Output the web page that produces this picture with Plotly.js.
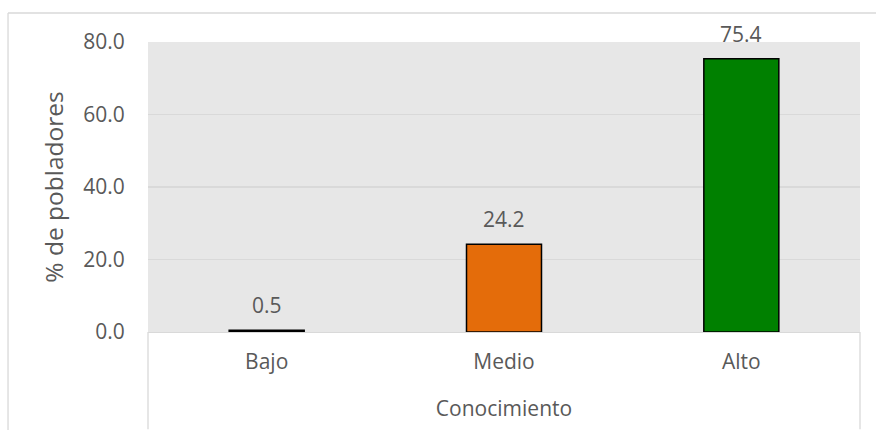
<!DOCTYPE html>
<html>
<head>
<meta charset="utf-8">
<script src="https://cdn.plot.ly/plotly-3.0.1.min.js"></script>
<style>
  html, body { margin: 0; padding: 0; background: #ffffff; }
  #chart { width: 876px; height: 430px; }
</style>
</head>
<body>
<div id="chart"></div>
<script>
const categories = ["Bajo", "Medio", "Alto"];
const values = [0.5, 24.2, 75.4];
const barColors = ["#000000", "#E46C0A", "#008000"];
const yTicks = [0, 20, 40, 60, 80];
const yTitle = "% de pobladores";
const xTitle = "Conocimiento";

const textColor = "#595959";
const fontFamily = "'Open Sans', 'Noto Sans', sans-serif";

const trace = {
  type: "bar",
  x: categories,
  y: values,
  marker: { color: barColors, line: { color: "#000000", width: 1.5 } },
  hoverinfo: "skip"
};

const annotations = categories.map((c, i) => ({
  x: c, y: values[i], xref: "x", yref: "y",
  text: values[i].toFixed(1),
  showarrow: false, yanchor: "bottom", yshift: 9,
  font: { family: fontFamily, size: 21, color: textColor }
}));

const lineStyle = { color: "#d9d9d9", width: 1.3 };
const shapes = [
  { type: "line", xref: "x domain", yref: "paper", x0: 0, x1: 0, y0: 0, y1: -0.335, line: lineStyle },
  { type: "line", xref: "x domain", yref: "paper", x0: 1, x1: 1, y0: 0, y1: -0.335, line: lineStyle },
  { type: "line", xref: "paper", yref: "paper", x0: -0.1966, x1: -0.1966, y0: 1.1, y1: -0.5, line: lineStyle },
  { type: "line", xref: "paper", yref: "paper", x0: -0.1966, x1: 1.1, y0: 1.1, y1: 1.1, line: lineStyle }
];

const layout = {
  width: 876, height: 430,
  margin: { l: 148, r: 16, t: 42, b: 98 },
  paper_bgcolor: "#ffffff",
  plot_bgcolor: "#e7e7e7",
  bargap: 0.684,
  showlegend: false,
  font: { family: fontFamily, size: 21, color: textColor },
  xaxis: {
    type: "category",
    showline: true, linecolor: "#d9d9d9", linewidth: 1.3,
    showgrid: false, zeroline: false,
    ticks: "outside", ticklen: 10, tickcolor: "rgba(0,0,0,0)",
    tickfont: { family: fontFamily, size: 21, color: textColor },
    title: { text: xTitle, standoff: 27, font: { family: fontFamily, size: 21, color: textColor } },
    automargin: false
  },
  yaxis: {
    range: [0, 80],
    tickvals: yTicks,
    tickformat: ".1f",
    showgrid: true, gridcolor: "#d9d9d9", gridwidth: 1.3,
    zeroline: false, showline: false,
    ticks: "outside", ticklen: 18, tickcolor: "rgba(0,0,0,0)",
    tickfont: { family: fontFamily, size: 21, color: textColor },
    title: { text: yTitle, standoff: 12, font: { family: fontFamily, size: 24.5, color: textColor } },
    automargin: false
  },
  annotations: annotations,
  shapes: shapes
};

Plotly.newPlot("chart", [trace], layout, { displayModeBar: false, staticPlot: true });
</script>
</body>
</html>
